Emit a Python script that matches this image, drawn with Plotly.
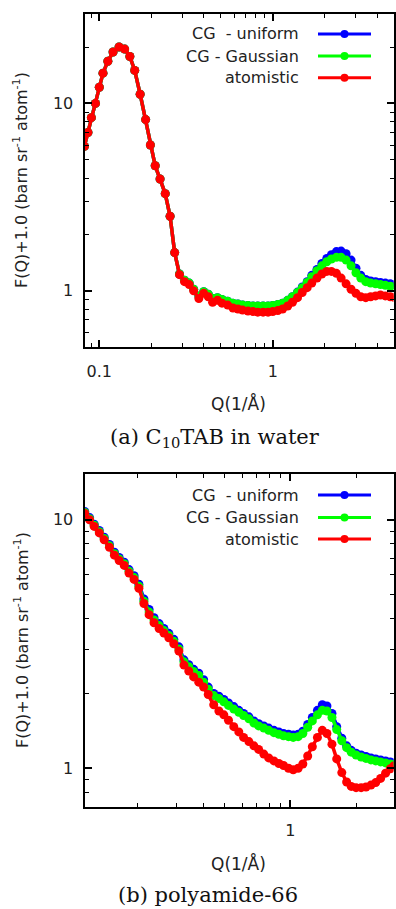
import plotly.graph_objects as go

# ---------------- data: panel (a) C10TAB in water ----------------
q_a = [0.082, 0.086, 0.09, 0.095, 0.1, 0.105, 0.112, 0.12, 0.13, 0.14, 0.15, 0.16,
       0.172, 0.185, 0.197, 0.21, 0.224, 0.24, 0.256, 0.272, 0.29, 0.31, 0.33, 0.35,
       0.375, 0.4, 0.425, 0.45, 0.48, 0.51, 0.55, 0.59, 0.63, 0.67, 0.72, 0.77, 0.82,
       0.88, 0.94, 1.0, 1.07, 1.14, 1.22, 1.3, 1.39, 1.48, 1.58, 1.68, 1.8, 1.92, 2.05,
       2.18, 2.33, 2.48, 2.65, 2.83, 3.02, 3.22, 3.44, 3.67, 3.92, 4.18, 4.46, 4.76, 5.0]

atom_a = [5.9, 7.0, 8.4, 10.0, 12.2, 14.5, 16.8, 18.8, 20.0, 19.5, 17.8, 15.0,
          11.2, 8.2, 6.0, 4.65, 3.95, 3.3, 2.5, 1.6, 1.22, 1.12, 1.08, 1.0,
          0.91, 0.97, 0.93, 0.87, 0.89, 0.86, 0.84, 0.81, 0.80, 0.79, 0.78, 0.775, 0.77,
          0.77, 0.77, 0.775, 0.785, 0.80, 0.83, 0.87, 0.92, 0.98, 1.04, 1.10, 1.17, 1.23, 1.27,
          1.27, 1.24, 1.17, 1.09, 1.02, 0.97, 0.93, 0.92, 0.93, 0.94, 0.95, 0.94, 0.93, 0.925]

gauss_a = [5.9, 7.0, 8.4, 10.0, 12.2, 14.5, 16.8, 18.8, 20.0, 19.5, 17.8, 15.0,
           11.2, 8.2, 6.0, 4.65, 3.95, 3.3, 2.5, 1.6, 1.23, 1.14, 1.10, 1.02,
           0.94, 0.99, 0.96, 0.91, 0.92, 0.90, 0.88, 0.86, 0.85, 0.84, 0.835, 0.83, 0.83,
           0.83, 0.83, 0.835, 0.845, 0.86, 0.89, 0.93, 0.98, 1.04, 1.11, 1.19, 1.28, 1.36, 1.43,
           1.48, 1.51, 1.51, 1.46, 1.36, 1.25, 1.17, 1.12, 1.10, 1.09, 1.08, 1.07, 1.06, 1.05]

unif_a = [5.9, 7.0, 8.4, 10.0, 12.2, 14.5, 16.8, 18.8, 20.0, 19.5, 17.8, 15.0,
          11.2, 8.2, 6.0, 4.65, 3.95, 3.3, 2.5, 1.6, 1.23, 1.14, 1.10, 1.02,
          0.94, 0.99, 0.96, 0.91, 0.92, 0.90, 0.88, 0.86, 0.85, 0.84, 0.835, 0.83, 0.83,
          0.83, 0.83, 0.835, 0.845, 0.86, 0.89, 0.93, 0.985, 1.05, 1.12, 1.21, 1.30, 1.40, 1.49,
          1.56, 1.62, 1.63, 1.58, 1.46, 1.32, 1.21, 1.15, 1.13, 1.12, 1.11, 1.10, 1.09, 1.08]

# ---------------- data: panel (b) polyamide-66 ----------------
q_b = [0.114, 0.12, 0.126, 0.133, 0.14, 0.148, 0.156, 0.164, 0.173, 0.182, 0.192, 0.202,
       0.213, 0.225, 0.237, 0.25, 0.263, 0.277, 0.292, 0.308, 0.325, 0.342, 0.36, 0.38,
       0.4, 0.42, 0.445, 0.47, 0.495, 0.52, 0.55, 0.58, 0.61, 0.645, 0.68, 0.715, 0.755,
       0.795, 0.84, 0.885, 0.93, 0.98, 1.03, 1.085, 1.14, 1.2, 1.26, 1.33, 1.4, 1.47,
       1.55, 1.63, 1.72, 1.81, 1.9, 2.0, 2.11, 2.22, 2.34, 2.46, 2.59, 2.73, 2.87, 2.97]

atom_b = [10.6, 10.0, 9.4, 8.85, 8.3, 7.75, 7.2, 6.85, 6.55, 6.1, 5.75, 5.3,
          4.6, 4.15, 3.85, 3.65, 3.5, 3.35, 3.17, 2.96, 2.6, 2.46, 2.33, 2.22,
          2.12, 1.98, 1.8, 1.7, 1.64, 1.56, 1.47, 1.40, 1.33, 1.28, 1.23, 1.19, 1.14,
          1.10, 1.07, 1.045, 1.025, 1.0, 0.985, 1.0, 1.04, 1.12, 1.22, 1.33, 1.42, 1.38,
          1.25, 1.09, 0.96, 0.88, 0.845, 0.835, 0.835, 0.84, 0.855, 0.875, 0.91, 0.955, 0.995, 1.02]

gauss_b = [10.7, 10.1, 9.5, 8.95, 8.4, 7.85, 7.3, 6.95, 6.65, 6.2, 5.85, 5.4,
           4.7, 4.25, 3.95, 3.75, 3.58, 3.42, 3.24, 3.02, 2.68, 2.56, 2.45, 2.36,
           2.22, 2.08, 1.96, 1.91, 1.85, 1.79, 1.73, 1.68, 1.63, 1.58, 1.52, 1.48, 1.45,
           1.42, 1.39, 1.37, 1.35, 1.34, 1.33, 1.34, 1.38, 1.46, 1.55, 1.64, 1.71, 1.70,
           1.60, 1.43, 1.29, 1.21, 1.16, 1.13, 1.11, 1.095, 1.08, 1.07, 1.06, 1.05, 1.04, 1.035]

unif_b = [10.8, 10.2, 9.6, 9.05, 8.5, 7.95, 7.4, 7.05, 6.75, 6.3, 5.95, 5.5,
          4.8, 4.35, 4.03, 3.82, 3.65, 3.49, 3.3, 3.08, 2.73, 2.61, 2.5, 2.41,
          2.27, 2.12, 2.0, 1.95, 1.89, 1.83, 1.77, 1.71, 1.66, 1.61, 1.55, 1.51, 1.48,
          1.45, 1.42, 1.40, 1.38, 1.37, 1.36, 1.37, 1.41, 1.50, 1.60, 1.71, 1.80, 1.78,
          1.66, 1.47, 1.32, 1.23, 1.18, 1.15, 1.13, 1.115, 1.10, 1.09, 1.08, 1.07, 1.06, 1.05]

series_names = ["CG\u00a0 - uniform", "CG - Gaussian", "atomistic"]
series_colors = ["#0000ff", "#00ff00", "#ff0000"]

tick_a_x = [0.1, 1]
tick_a_y = [1, 10]
tick_b_x = [1]
tick_b_y = [1, 10]

W, H = 396, 909
FONT = "DejaVu Sans"


def X(px):
    return px / W


def Y(py):
    return 1 - py / H


fig = go.Figure()

panels = [
    (q_a, [unif_a, gauss_a, atom_a], "x", "y"),
    (q_b, [unif_b, gauss_b, atom_b], "x2", "y2"),
]
for q, ys, xa, ya in panels:
    for vals, name, col in zip(ys, series_names, series_colors):
        fig.add_trace(go.Scatter(
            x=q, y=vals, mode="lines+markers", name=name, showlegend=False,
            line=dict(color=col, width=3.5),
            marker=dict(color=col, size=9, line=dict(width=0)),
            xaxis=xa, yaxis=ya))

axis_common = dict(
    type="log", showgrid=False, zeroline=False, showline=True,
    linecolor="black", linewidth=2, mirror="allticks",
    ticks="inside", ticklen=7, tickwidth=1.5, tickcolor="black",
    tickfont=dict(family=FONT, size=16, color="#222"),
)


def minor(vals):
    return dict(tickmode="array", tickvals=vals, ticks="inside", ticklen=4,
                tickwidth=1.2, tickcolor="black", showgrid=False)


fig.update_layout(
    width=W, height=H,
    margin=dict(l=0, r=0, t=0, b=0),
    paper_bgcolor="white", plot_bgcolor="white",
    showlegend=False,
    xaxis=dict(axis_common, domain=[X(84.5), X(393.5)], range=[-1.0854, 0.6965],
               anchor="y", tickvals=tick_a_x, ticktext=["0.1", "1"],
               ticklabelstandoff=8,
               minor=minor([0.09, 0.2, 0.3, 0.4, 0.5, 0.6, 0.7, 0.8, 0.9, 2, 3, 4])),
    yaxis=dict(axis_common, domain=[Y(347.3), Y(14)], range=[-0.30103, 1.47712],
               anchor="x", tickvals=tick_a_y, ticktext=["1", "10"],
               ticklabelstandoff=6,
               minor=minor([0.6, 0.7, 0.8, 0.9, 2, 3, 4, 5, 6, 7, 8, 9, 20])),
    xaxis2=dict(axis_common, domain=[X(84.5), X(393.5)], range=[-0.944, 0.4725],
                anchor="y2", tickvals=tick_b_x, ticktext=["1"],
                ticklabelstandoff=8,
                minor=minor([0.2, 0.3, 0.4, 0.5, 0.6, 0.7, 0.8, 0.9, 2])),
    yaxis2=dict(axis_common, domain=[Y(806.7), Y(474)], range=[-0.1549, 1.184],
                anchor="x2", tickvals=tick_b_y, ticktext=["1", "10"],
                ticklabelstandoff=6,
                minor=minor([0.8, 0.9, 2, 3, 4, 5, 6, 7, 8, 9])),
)

annotations = []
shapes = []

# axis titles and captions
for yc, xt_y, cap, cap_x, cap_y in [
    (180, 403, "(a) C<sub>10</sub>TAB in water", 215, 438),
    (640, 863, "(b) polyamide-66", 208, 895),
]:
    annotations.append(dict(
        x=X(21), y=Y(yc), xref="paper", yref="paper", textangle=-90,
        text="F(Q)+1.0 (barn sr<sup>-1</sup> atom<sup>-1</sup>)", showarrow=False,
        font=dict(family=FONT, size=16, color="#222"), xanchor="center", yanchor="middle"))
    annotations.append(dict(
        x=X(239), y=Y(xt_y), xref="paper", yref="paper", text="Q(1/Å)",
        showarrow=False, font=dict(family=FONT, size=17, color="#222"),
        xanchor="center", yanchor="middle"))
    annotations.append(dict(
        x=X(cap_x), y=Y(cap_y), xref="paper", yref="paper", text=cap,
        showarrow=False, font=dict(family="DejaVu Serif", size=21, color="#111"),
        xanchor="center", yanchor="middle"))

# manual legends (text right-aligned, sample line on the right)
for rows in ([34, 56, 77.7], [495, 517.5, 539]):
    for py, name, col in zip(rows, series_names, series_colors):
        annotations.append(dict(
            x=X(301), y=Y(py), xref="paper", yref="paper", text=name,
            showarrow=False, font=dict(family=FONT, size=16, color="#222"),
            xanchor="right", yanchor="middle"))
        shapes.append(dict(type="line", xref="paper", yref="paper",
                           x0=X(318), x1=X(371), y0=Y(py), y1=Y(py),
                           line=dict(color=col, width=3)))
        shapes.append(dict(type="circle", xref="paper", yref="paper",
                           x0=X(340.5), x1=X(348.5), y0=Y(py + 4), y1=Y(py - 4),
                           fillcolor=col, line=dict(color=col, width=0)))

fig.update_layout(annotations=annotations, shapes=shapes)
fig.write_html("out.html")
